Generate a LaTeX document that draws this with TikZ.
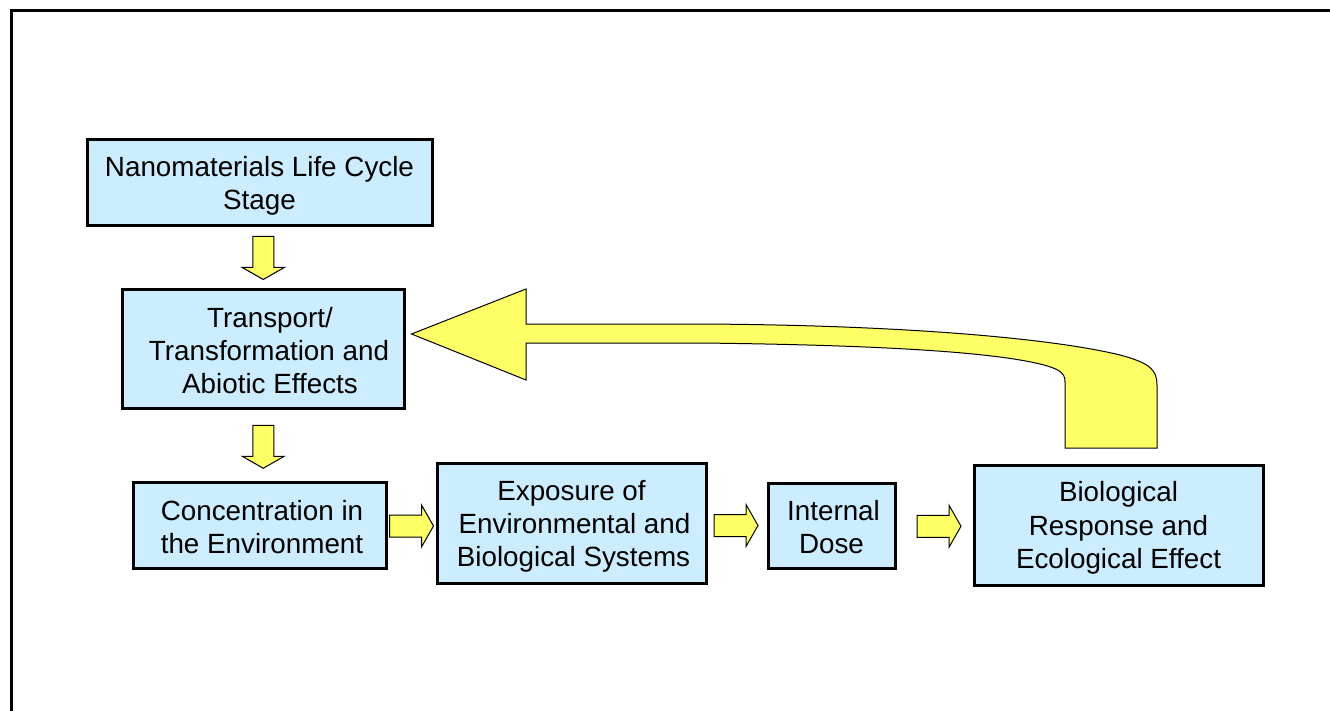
\documentclass[tikz,border=0pt]{standalone}
\usepackage{fontspec}
\setmainfont{Liberation Sans}
\usetikzlibrary{calc}

\definecolor{boxblue}{HTML}{CCECFF}
\definecolor{arrowyellow}{HTML}{FFFF66}

% uniform line strut so every box centres its text the same way
\newcommand{\ls}{\rule[-3pt]{0pt}{29pt}}

\tikzset{
  stagebox/.style={draw=black, line width=3pt, fill=boxblue, align=center,
    inner sep=0pt, font=\fontsize{27.8}{33.3}\selectfont},
  blockarrow/.style={draw=black, line width=1pt, fill=arrowyellow, line join=miter},
  pics/rightarrow/.style={code={
    \filldraw[blockarrow] (-22,-11) -- (10,-11) -- (10,-21) -- (22,0)
      -- (10,21) -- (10,11) -- (-22,11) -- cycle;}},
  pics/downarrow/.style={code={
    \filldraw[blockarrow] (-10.5,-21.5) -- (-10.5,9.5) -- (-21,9.5) -- (0,21.5)
      -- (21,9.5) -- (10.5,9.5) -- (10.5,-21.5) -- cycle;}},
}

\begin{document}
\begin{tikzpicture}[x=1pt, y=-1pt]
  \useasboundingbox (0,0) rectangle (1330,711);

  % outer frame (only its top and left edges fall inside the page)
  \draw[line width=2.5pt] (1340,10.5) -- (11.3,10.5) -- (11.3,720);

  % stages
  \node[stagebox, minimum width=345, minimum height=86] (life) at (259.5,183)
    {\ls Nanomaterials Life Cycle\\\ls Stage};
  \node[stagebox, minimum width=282, minimum height=118] (trans) at (263,349)
    {\ls\hspace*{14pt}Transport/\\\ls\hspace*{12pt}Transformation and\\\ls\hspace*{14pt}Abiotic Effects};
  \node[stagebox, minimum width=253, minimum height=86] (conc) at (259.5,525.5)
    {\ls\hspace*{5pt}Concentration in\\\ls\hspace*{5pt}the Environment};
  \node[stagebox, minimum width=269, minimum height=120] (expo) at (571.5,523.5)
    {\ls Exposure of\\\ls\hspace*{6pt}Environmental and\\\ls\hspace*{4pt}Biological Systems};
  \node[stagebox, minimum width=127, minimum height=85] (dose) at (831.5,525.5)
    {\ls\hspace*{4pt}Internal\\\ls Dose};
  \node[stagebox, minimum width=289, minimum height=120] (resp) at (1118.5,525)
    {\ls Biological\\\ls Response and\\\ls Ecological Effect};

  % block arrows between consecutive stages
  \pic at ($(life.south)!0.5!(trans.north)+(2,0)$) {downarrow};
  \pic at ($(trans.south)!0.5!(conc.north)+(2,1.5)$) {downarrow};
  \pic at ($(conc.east)!0.5!(expo.west)+(0,1.5)$) {rightarrow};
  \pic at ($(expo.east)!0.5!(dose.west)+(-1,1)$) {rightarrow};
  \pic at ($(dose.east)!0.5!(resp.west)+(4.5,1)$) {rightarrow};

  % feedback arrow from the response back to transport
  \coordinate (fbtip) at ($(trans.east)+(6,-15)$);
  \filldraw[blockarrow]
    (1065,448) -- (1065,382)
    .. controls (1065,373) and (1060,369) .. (1040,364)
    .. controls (990,352) and (880,345) .. (700,343)
    -- (526,343) -- (526,380) -- (fbtip) -- (526,289) -- (526,324)
    -- (700,324)
    .. controls (900,325) and (1050,338) .. (1120,355)
    .. controls (1150,363) and (1157,370) .. (1157,385)
    -- (1157,448) -- cycle;
\end{tikzpicture}
\end{document}
